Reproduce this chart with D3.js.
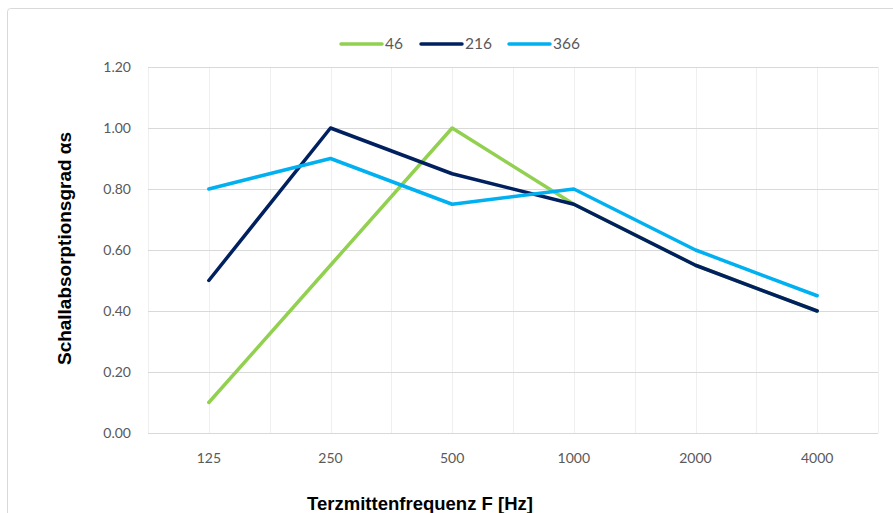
<!DOCTYPE html>
<html><head><meta charset="utf-8">
<script src="https://cdn.jsdelivr.net/npm/d3@7"></script>
<style>body{margin:0;background:#fff}svg{display:block}</style>
</head><body>
<svg id="c" width="893" height="513"></svg>
<script>
const categories = ["125","250","500","1000","2000","4000"];
const seriesNames = ["46","216","366"];
const s46  = [0.10, 0.55, 1.00, 0.75, 0.55, 0.40];
const s216 = [0.50, 1.00, 0.85, 0.75, 0.55, 0.40];
const s366 = [0.80, 0.90, 0.75, 0.80, 0.60, 0.45];
const yTicks = [0, 0.2, 0.4, 0.6, 0.8, 1.0, 1.2];
const colors = ["#92D050", "#002060", "#00B0F0"];
const series = [s46, s216, s366];

const svg = d3.select("#c");
svg.append("rect").attr("x",7.5).attr("y",8.5).attr("width",900).attr("height",520)
  .attr("rx",3).attr("fill","#fff").attr("stroke","#d9d9d9").attr("stroke-width",1);

const L=148, R=878, T=67, B=433;
const x = d3.scaleBand().domain(categories).range([L,R]);
const y = d3.scaleLinear().domain([0,1.2]).range([B,T]);
const g = svg.append("g");

const vlines = [];
categories.forEach(c=>{ vlines.push(x(c)); vlines.push(x(c)+x.bandwidth()/2); });
vlines.push(R);
g.selectAll("line.v").data(vlines).enter().append("line")
  .attr("x1",d=>Math.round(d)+0.5).attr("x2",d=>Math.round(d)+0.5)
  .attr("y1",T).attr("y2",B).attr("stroke","#efefef").attr("stroke-width",1);

g.selectAll("line.h").data(yTicks).enter().append("line")
  .attr("x1",L).attr("x2",R)
  .attr("y1",d=>Math.round(y(d))+0.5).attr("y2",d=>Math.round(y(d))+0.5)
  .attr("stroke","#d9d9d9").attr("stroke-width",1);

const font = "Lato, 'Open Sans', sans-serif";
g.selectAll("text.yt").data(yTicks).enter().append("text")
  .attr("x",131).attr("y",d=>y(d)).attr("dy","0.35em")
  .attr("text-anchor","end").attr("fill","#595959")
  .style("font-family",font).style("font-size","14px")
  .text(d=>d3.format(".2f")(d));
g.selectAll("text.xt").data(categories).enter().append("text")
  .attr("x",d=>x(d)+x.bandwidth()/2).attr("y",458).attr("dy","0.35em")
  .attr("text-anchor","middle").attr("fill","#595959")
  .style("font-family",font).style("font-size","14px")
  .text(d=>d);

const line = d3.line().x((d,i)=>x(categories[i])+x.bandwidth()/2).y(d=>y(d));
series.forEach((s,k)=>{
  g.append("path").datum(s).attr("d",line).attr("fill","none")
   .attr("stroke",colors[k]).attr("stroke-width",3.5)
   .attr("stroke-linejoin","round").attr("stroke-linecap","round");
});

const tfont = "'Liberation Sans', Arial, sans-serif";
svg.append("text").attr("x",307).attr("y",510)
  .attr("textLength",226).attr("lengthAdjust","spacingAndGlyphs")
  .attr("fill","#000")
  .style("font-family",tfont).style("font-weight","bold").style("font-size","18px")
  .text("Terzmittenfrequenz F [Hz]");
svg.append("text").attr("transform","translate(71,365) rotate(-90)")
  .attr("textLength",233).attr("lengthAdjust","spacingAndGlyphs")
  .attr("fill","#000")
  .style("font-family",tfont).style("font-weight","bold").style("font-size","18px")
  .text("Schallabsorptionsgrad αs");

const legX = [340, 420, 508];
seriesNames.forEach((n,k)=>{
  svg.append("line").attr("x1",legX[k]+1).attr("x2",legX[k]+42).attr("y1",44).attr("y2",44)
    .attr("stroke",colors[k]).attr("stroke-width",3.5).attr("stroke-linecap","round");
  svg.append("text").attr("x",legX[k]+45).attr("y",44).attr("dy","0.35em")
    .attr("fill","#595959").style("font-family",font).style("font-size","15.5px").text(n);
});
</script>
</body></html>
